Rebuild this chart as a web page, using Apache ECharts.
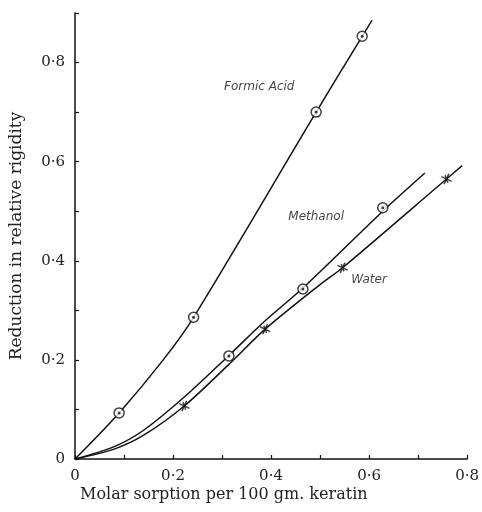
<!DOCTYPE html>
<html>
<head>
<meta charset="utf-8">
<script src="https://cdn.jsdelivr.net/npm/echarts@6/dist/echarts.min.js"></script>
<style>
  html, body { margin: 0; padding: 0; background: #fff; }
  #chart { width: 482px; height: 512px; }
</style>
</head>
<body>
<div id="chart"></div>
<script>
// curves (x = molar sorption, y = reduction in rigidity)
const formicCurve = [[0, 0], [0.09, 0.093], [0.18, 0.2], [0.242, 0.286], [0.492, 0.70], [0.586, 0.853], [0.606, 0.885]]
const methanolCurve = [[0, 0], [0.08, 0.025], [0.14, 0.058], [0.223, 0.125], [0.313, 0.208], [0.388, 0.279], [0.465, 0.345], [0.628, 0.5], [0.714, 0.577]]
const waterCurve = [[0, 0], [0.08, 0.02], [0.14, 0.048], [0.223, 0.107], [0.313, 0.19], [0.388, 0.262], [0.5, 0.352], [0.546, 0.386], [0.758, 0.565], [0.79, 0.592]]

// measured points
const formicPoints = [[0.09, 0.093], [0.242, 0.286], [0.492, 0.70], [0.586, 0.853]]
const methanolPoints = [[0.314, 0.208], [0.465, 0.343], [0.628, 0.507]]
const waterPoints = [[0.223, 0.107], [0.388, 0.262], [0.546, 0.386], [0.758, 0.565]]

// curve labels, placed in data space
const curveLabels = [
  { name: 'Formic Acid', value: [0.376, 0.75] },
  { name: 'Methanol', value: [0.492, 0.489] },
  { name: 'Water', value: [0.6, 0.362] }
]

const chart = echarts.init(document.getElementById('chart'))

const serif = 'DejaVu Serif'
const tickLabel = (v) => {
  const d = Math.round(v * 10)
  if (d === 0) return '0'
  if (d % 2 !== 0) return ''
  return '0\u00b7' + d
}

const lineSeries = (data) => ({
  type: 'line',
  data: data,
  smooth: 0.3,
  showSymbol: false,
  lineStyle: { color: '#111', width: 1.5 },
  z: 2
})

const ringSeries = (data) => ([
  {
    type: 'scatter',
    data: data,
    symbol: 'circle',
    symbolSize: 10,
    itemStyle: { color: '#fff', borderColor: '#111', borderWidth: 1.5 },
    z: 3
  },
  {
    type: 'scatter',
    data: data,
    symbol: 'circle',
    symbolSize: 3,
    itemStyle: { color: '#111' },
    z: 4
  }
])

const option = {
  backgroundColor: '#fff',
  animation: false,
  grid: { left: 70, right: 12, top: 13, bottom: 53 },
  xAxis: {
    type: 'value',
    min: 0,
    max: 0.8,
    interval: 0.1,
    axisLine: { show: true, lineStyle: { color: '#111', width: 1.5 } },
    axisTick: { show: true, inside: true, length: 4, lineStyle: { color: '#111', width: 1.2 } },
    axisLabel: { formatter: tickLabel, color: '#222', fontFamily: serif, fontSize: 15, margin: 10 },
    splitLine: { show: false }
  },
  yAxis: {
    type: 'value',
    min: 0,
    max: 0.9,
    interval: 0.1,
    name: 'Reduction in relative rigidity',
    nameLocation: 'middle',
    nameGap: 50,
    nameTextStyle: { color: '#222', fontFamily: serif, fontSize: 17 },
    axisLine: { show: true, lineStyle: { color: '#111', width: 1.5 } },
    axisTick: { show: true, inside: true, length: 4, lineStyle: { color: '#111', width: 1.2 } },
    axisLabel: { formatter: tickLabel, color: '#222', fontFamily: serif, fontSize: 15, margin: 10 },
    splitLine: { show: false }
  },
  graphic: [
    {
      type: 'text',
      left: 80,
      top: 487,
      style: { text: 'Molar sorption per 100 gm. keratin', fill: '#222', font: '16px "DejaVu Serif"' }
    }
  ],
  series: [
    lineSeries(formicCurve),
    lineSeries(methanolCurve),
    lineSeries(waterCurve),
    ...ringSeries(formicPoints),
    ...ringSeries(methanolPoints),
    {
      type: 'scatter',
      data: waterPoints,
      symbol: 'path://M0,0L10,10M10,0L0,10M5,0L5,10',
      symbolSize: 8,
      symbolRotate: 20,
      itemStyle: { color: 'none', borderColor: '#111', borderWidth: 1.5 },
      z: 3
    },
    {
      type: 'scatter',
      data: curveLabels,
      symbolSize: 0,
      label: {
        show: true,
        position: 'inside',
        formatter: '{b}',
        color: '#111',
        fontFamily: 'DejaVu Sans',
        fontStyle: 'italic',
        fontSize: 12
      },
      z: 5
    }
  ]
}

chart.setOption(option)
</script>
</body>
</html>
